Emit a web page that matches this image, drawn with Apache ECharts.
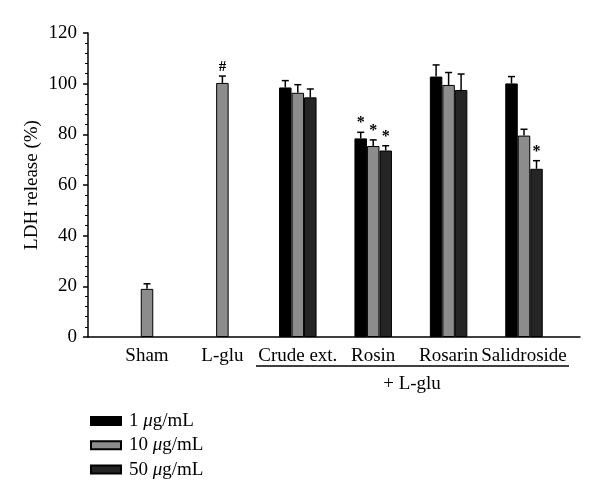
<!DOCTYPE html>
<html>
<head>
<meta charset="utf-8">
<script src="https://cdn.jsdelivr.net/npm/echarts@6/dist/echarts.min.js"></script>
<style>html,body{margin:0;padding:0;background:#fff}#c{width:600px;height:504px}</style>
</head>
<body>
<div id="c"></div>
<script>
const categories = ['Sham', 'L-glu', 'Crude ext.', 'Rosin', 'Rosarin', 'Salidroside'];
const seriesNames = ['1 μg/mL', '10 μg/mL', '50 μg/mL'];
const values1 = [null, null, 98.5, 78.4, 102.8, 100.1];
const values10 = [19, 100.3, 96.4, 75.4, 99.5, 79.5];
const values50 = [null, null, 94.6, 73.6, 97.5, 66.4];
const errors1 = [null, null, 2.7, 2.4, 4.6, 2.7];
const errors10 = [2, 2.7, 3.2, 2.4, 4.9, 2.5];
const errors50 = [null, null, 3.3, 1.9, 6.3, 3.2];
const marks1 = ['', '', '', '*', '', ''];
const marks10 = ['', '#', '', '*', '', ''];
const marks50 = ['', '', '', '*', '', '*'];
const yTicks = [0, 20, 40, 60, 80, 100, 120];

const FONT = 'Liberation Serif';
const FS = 19;
const colors = ['#000000', '#8c8c8c', '#252525'];
const BW = 12.5;

const allVals = [values1, values10, values50];
const allErr = [errors1, errors10, errors50];
const allMarks = [marks1, marks10, marks50];
const errData = [];
for (let s = 0; s < 3; s++) {
  for (let i = 0; i < categories.length; i++) {
    if (allVals[s][i] != null) errData.push([i, allVals[s][i], allErr[s][i], s, allMarks[s][i]]);
  }
}

const chart = echarts.init(document.getElementById('c'), null, {renderer: 'canvas'});
const barSeries = allVals.map((v, s) => ({
  type: 'bar', name: seriesNames[s], xAxisIndex: 1, yAxisIndex: 1,
  data: v, barWidth: BW, barGap: '0%',
  itemStyle: {color: colors[s], borderColor: '#000', borderWidth: 1},
  silent: true
}));

const option = {
  animation: false,
  backgroundColor: '#fff',
  grid: [
    {left: 88, right: 20, top: 33, bottom: 167},
    {left: 109.3, right: 38.3, top: 33, bottom: 167}
  ],
  xAxis: [
    {type: 'value', gridIndex: 0, min: 0, max: 1, axisLine: {show: true, lineStyle: {color: '#000', width: 1.5}},
     axisTick: {show: false}, axisLabel: {show: false}, splitLine: {show: false}},
    {type: 'category', gridIndex: 1, data: categories, axisLine: {show: false}, axisTick: {show: false},
     axisLabel: {color: '#000', fontFamily: FONT, fontSize: FS, margin: 10, interval: 0}}
  ],
  yAxis: [
    {type: 'value', gridIndex: 0, min: 0, max: 120, interval: 20,
     name: 'LDH release (%)', nameLocation: 'middle', nameGap: 46, nameRotate: 90, nameMoveOverlap: false,
     nameTextStyle: {color: '#000', fontFamily: FONT, fontSize: FS},
     axisLine: {show: true, lineStyle: {color: '#000', width: 1.5}},
     axisTick: {show: true, inside: false, length: 5, lineStyle: {color: '#000', width: 1.5}},
     minorTick: {show: true, splitNumber: 5, length: 3, lineStyle: {color: '#000', width: 1}},
     axisLabel: {color: '#000', fontFamily: FONT, fontSize: FS, margin: 11,
       formatter: v => yTicks.includes(v) ? String(v) : ''},
     splitLine: {show: false}},
    {type: 'value', gridIndex: 1, min: 0, max: 120, show: false}
  ],
  legend: {
    orient: 'vertical', left: 90, top: 411, padding: 0, itemWidth: 30, itemHeight: 8, itemGap: 4.3,
    icon: 'rect', data: seriesNames,
    formatter: n => {
      const p = n.split(' ');
      return '{n|' + p[0] + ' }{i|μ}{n|' + p[1].slice(1) + '}';
    },
    textStyle: {color: '#000', fontFamily: FONT, fontSize: FS, lineHeight: 20, padding: [0, 0, 0, 3],
      rich: {n: {fontFamily: FONT, fontSize: FS, lineHeight: 20, color: '#000'},
             i: {fontFamily: FONT, fontSize: FS, lineHeight: 20, fontStyle: 'italic', color: '#000'}}}
  },
  graphic: [
    {type: 'line', shape: {x1: 256, y1: 366, x2: 569, y2: 366}, style: {stroke: '#000', lineWidth: 1.5}},
    {type: 'text', x: 412, y: 384, style: {text: '+ L-glu', font: FS + 'px "Liberation Serif"', fill: '#000', textAlign: 'center', textVerticalAlign: 'middle'}}
  ],
  series: barSeries.concat([{
    type: 'custom', xAxisIndex: 1, yAxisIndex: 1, silent: true,
    data: errData, encode: {x: 0, y: 1},
    renderItem: (params, api) => {
      const ci = api.value(0), v = api.value(1), e = api.value(2), s = api.value(3);
      const mark = errData[params.dataIndex][4];
      const base = api.coord([ci, v]);
      const top = api.coord([ci, v + e]);
      const x = base[0] + (s - 1) * BW;
      const children = [
        {type: 'line', shape: {x1: x, y1: base[1], x2: x, y2: top[1]}, style: {stroke: '#000', lineWidth: 1.5}},
        {type: 'line', shape: {x1: x - 3.5, y1: top[1], x2: x + 3.5, y2: top[1]}, style: {stroke: '#000', lineWidth: 1.5}}
      ];
      if (mark) children.push({type: 'text', x: x, y: top[1] - 1,
        style: {text: mark, font: (mark === '#' ? 'bold 15px' : 'bold 16px') + ' "Liberation Serif"', fill: '#000', textAlign: 'center', textVerticalAlign: 'bottom'}});
      return {type: 'group', children};
    }
  }])
};
chart.setOption(option);
</script>
</body>
</html>
